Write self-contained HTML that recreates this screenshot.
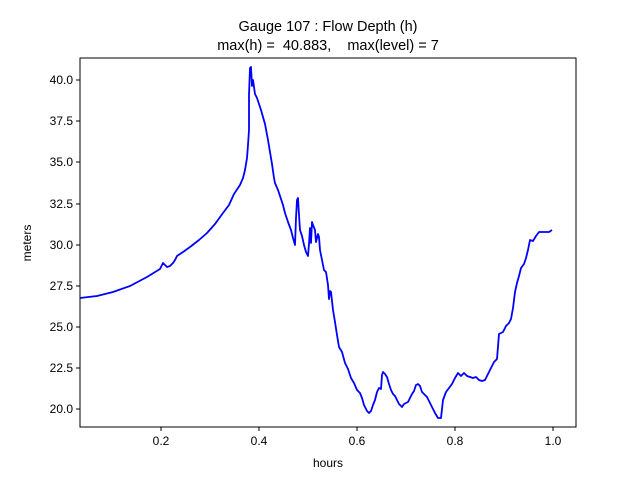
<!DOCTYPE html>
<html><head><meta charset="utf-8"><style>body{margin:0;background:#fff}</style></head><body>
<svg width="640" height="480" xmlns="http://www.w3.org/2000/svg" font-family="Liberation Sans, DejaVu Sans, sans-serif">
<rect width="640" height="480" fill="#fff"/>
<text x="328" y="31" font-size="14.5" text-anchor="middle">Gauge 107 : Flow Depth (h)</text>
<text x="328" y="50" font-size="14.5" text-anchor="middle" xml:space="preserve">max(h) =  40.883,    max(level) = 7</text>
<polyline fill="none" stroke="#0000ff" stroke-width="1.8" stroke-linejoin="round" points="80,298 97,296 113,292 130,286 147,277 160,269 161,267 163,263 165,265 167,267 170,266 173,263 175,260 177,256 183,252 190,247 199,240 207,233 215,224 223,213 229,205 234,194 236,191 240,185 243,178 245,170 247,158 248,145 249,130 249,95 250,68 251,67 252,86 253,80 254,87 255,94 257,98 261,110 265,124 268,140 270,152 272,164 274,178 275,183 278,190 280,196 283,205 285,213 288,222 291,230 293,238 295,245 296,218 297,200 298,198 299,215 300,230 302,236 304,245 306,252 308,256 309,244 310,228 311,243 312,222 313,225 315,230 316,242 318,234 319,237 320,250 322,260 324,270 326,272 328,285 329,299 330,291 331,292 333,310 335,322 337,335 339,347 342,352 345,363 348,369 351,378 354,383 357,390 360,393 362,398 364,405 367,411 369,413 371,411 373,405 375,400 377,392 379,388 381,389 382,375 383,372 385,374 387,377 389,384 391,390 393,394 395,396 397,400 399,404 402,407 404,404 406,403 408,402 410,398 412,394 414,391 416,385 418,384 420,386 422,392 425,395 427,397 429,401 432,407 435,413 438,418 441,418 443,400 446,392 449,388 452,384 455,378 458,373 461,376 464,373 467,376 470,377 473,378 476,377 479,380 482,381 485,380 488,374 491,368 494,362 497,359 499,334 503,332 506,326 509,323 511,319 513,308 515,292 517,283 519,276 521,268 524,264 526,258 528,250 530,240 533,241 536,236 539,232 542,232 546,232 549,232 552,230"/>
<rect x="80" y="58" width="496" height="369" fill="none" stroke="#000" stroke-width="1"/>
<g stroke="#000" stroke-width="1">
<line x1="161" y1="427" x2="161" y2="431"/><line x1="259" y1="427" x2="259" y2="431"/><line x1="357" y1="427" x2="357" y2="431"/><line x1="455" y1="427" x2="455" y2="431"/><line x1="553" y1="427" x2="553" y2="431"/>
<line x1="76" y1="80" x2="80" y2="80"/><line x1="76" y1="121" x2="80" y2="121"/><line x1="76" y1="162" x2="80" y2="162"/><line x1="76" y1="204" x2="80" y2="204"/><line x1="76" y1="245" x2="80" y2="245"/><line x1="76" y1="286" x2="80" y2="286"/><line x1="76" y1="327" x2="80" y2="327"/><line x1="76" y1="368" x2="80" y2="368"/><line x1="76" y1="409" x2="80" y2="409"/>
</g>
<g font-size="12" text-anchor="middle">
<text x="161" y="445">0.2</text><text x="259" y="445">0.4</text><text x="357" y="445">0.6</text><text x="455" y="445">0.8</text><text x="553" y="445">1.0</text>
<text x="328" y="467">hours</text>
</g>
<g font-size="12" text-anchor="end">
<text x="73" y="84">40.0</text><text x="73" y="125">37.5</text><text x="73" y="166">35.0</text><text x="73" y="208">32.5</text><text x="73" y="249">30.0</text><text x="73" y="290">27.5</text><text x="73" y="331">25.0</text><text x="73" y="372">22.5</text><text x="73" y="413">20.0</text>
</g>
<text x="31" y="243" font-size="12" text-anchor="middle" transform="rotate(-90 31 243)">meters</text>
</svg>
</body></html>
